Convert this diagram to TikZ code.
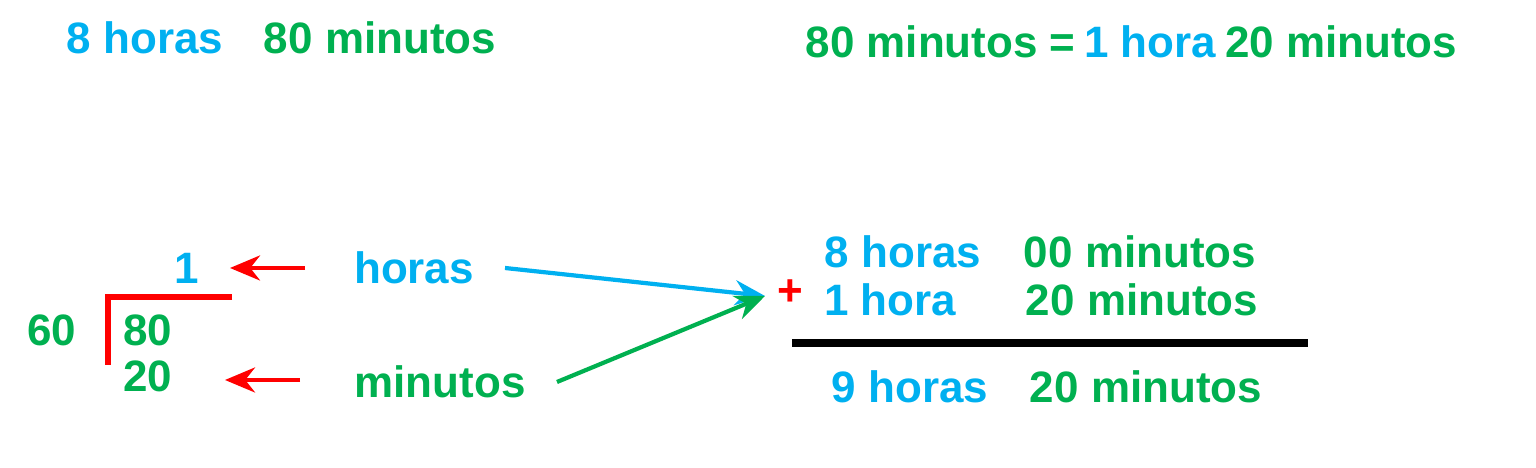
\documentclass[tikz,border=0pt]{standalone}
\usepackage{fontspec}
\setmainfont{Liberation Sans}
\usetikzlibrary{arrows.meta}
\definecolor{azul}{RGB}{0,176,240}
\definecolor{verde}{RGB}{0,176,80}
\definecolor{rojo}{RGB}{255,0,0}

\tikzset{
	txt/.style={font=\bfseries\fontsize{12.5}{14}\selectfont, inner sep=0pt},
	az/.style={txt, text=azul},
	vd/.style={txt, text=verde},
	flecha/.style={-{Stealth[length=3mm,width=2.5mm]}, line width=1.2pt}
}

\begin{document}
\begin{tikzpicture}[x={(0.01cm,0)}, y={(0,-0.01cm)}]
\useasboundingbox (0,0) rectangle (1536,468);

% TOP LINE
\node[az] (th) at (145,38) {8 horas};
\node[vd] (tm) at (380,38) {80 minutos};
\node[vd, anchor=west] (eq1) at (805,42) {80 minutos =};
\node[az, anchor=west] (eq2) at (eq1.east) {\,1 hora};
\node[vd, anchor=west] (eq3) at (eq2.east) {\,20 minutos};

% DIVISION
\node[az] (q) at (187,268) {1};
\node[vd] (d) at (52,330) {60};
\node[vd] (n) at (148,330) {80};
\node[vd] (r) at (148,376) {20};
\draw[rojo, line width=1.5pt] (232,297) -- (108,297) -- (108,365);

\node[az] (lh) at (414,268) {horas};
\node[vd] (lm) at (440,382) {minutos};
\coordinate (ah) at (305,268);
\coordinate (am) at (300,380);
\draw[flecha, rojo] (ah) -- (230,268);
\draw[flecha, rojo] (am) -- (225,380);

% SUM
\node[rojo, txt] (plus) at (790,293) {+};
\coordinate (tip) at (765,296);
\coordinate (sh) at (505,268);
\coordinate (sm) at (557,382);
\draw[flecha, azul] (sh) -- (tip);
\draw[flecha, verde] (sm) -- (tip);

\node[az] (a1) at (903,252) {8 horas};
\node[vd] (a2) at (1140,252) {00 minutos};
\node[az] (b1) at (890,300) {1 hora};
\node[vd] (b2) at (1142,300) {20 minutos};
\draw[line width=2.5pt] (792,343) -- (1308,343);
\node[az] (c1) at (910,387) {9 horas};
\node[vd] (c2) at (1146,387) {20 minutos};

\end{tikzpicture}
\end{document}
